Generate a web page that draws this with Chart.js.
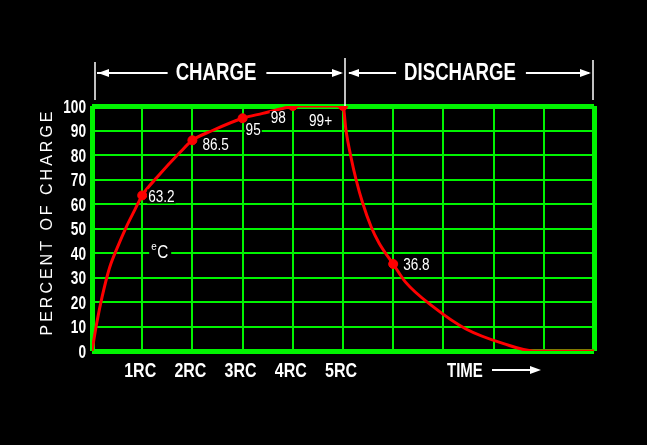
<!DOCTYPE html>
<html>
<head>
<meta charset="utf-8">
<script src="https://cdn.jsdelivr.net/npm/chart.js@4/dist/chart.umd.min.js"></script>
<style>
  html, body { margin: 0; padding: 0; background: #000; }
  #wrap { width: 647px; height: 445px; position: relative; }
</style>
</head>
<body>
<div id="wrap"><canvas id="rcChart"></canvas></div>
<script>
// Datos (tiempo en constantes RC, % de carga)
const chargeTime  = [0, 0.1, 0.2, 0.35, 0.5, 0.68, 0.85, 1, 1.3, 1.75, 2, 2.4, 3, 3.4, 3.8, 4.05, 5];
const chargeValue = [0, 12, 22, 34, 42, 50.5, 57.5, 63.5, 71, 81, 86, 90, 95, 97, 99, 100, 100];

const dischargeTime  = [5, 5.06, 5.16, 5.26, 5.39, 5.56, 5.72, 6, 6.25, 6.8, 7.45, 8.2, 8.8, 10];
const dischargeValue = [100, 90, 79, 70, 60.5, 50.7, 44, 35.5, 28, 18, 9, 3, 0, 0];

const markerTime   = [1, 2, 3, 4, 5, 6];
const markerValue  = [63.5, 86, 95, 100, 100, 35.5];
const markerLabels = ['63.2', '86.5', '95', '98', '99+', '36.8'];

const xTickLabels = ['', '1RC', '2RC', '3RC', '4RC', '5RC', '', '', '', '', ''];
const yTitle = 'PERCENT OF CHARGE';
const sectionLabels = ['CHARGE', 'DISCHARGE'];
const timeLabel = 'TIME';

const GREEN = '#00f400';
const RED = '#ff0000';
const WHITE = '#ffffff';
const SANS = '"Liberation Sans", Arial, sans-serif';

const curve = chargeTime.map((t, i) => ({ x: t, y: chargeValue[i] }))
  .concat(dischargeTime.slice(1).map((t, i) => ({ x: t, y: dischargeValue[i + 1] })));
const markers = markerTime.map((t, i) => ({ x: t, y: markerValue[i] }));

// desplazamientos (px) de cada etiqueta respecto a su punto
const labelOffsets = [[6, 1], [10, 4], [3, 11], [-22, 12], [-34, 15], [10, 1]];

// texto estrecho: escala horizontal (la fuente Narrow no esta instalada)
function narrowText(ctx, text, x, y, sx) {
  ctx.save();
  ctx.translate(x, y);
  ctx.scale(sx, 1);
  ctx.fillText(text, 0, 0);
  ctx.restore();
}

function narrowWidth(ctx, text, sx) {
  return ctx.measureText(text).width * sx;
}

function arrowHead(ctx, x, y, dir) {
  ctx.beginPath();
  ctx.moveTo(x, y);
  ctx.lineTo(x - dir * 11, y - 4);
  ctx.lineTo(x - dir * 11, y + 4);
  ctx.closePath();
  ctx.fill();
}

function hLine(ctx, x1, x2, y) {
  ctx.beginPath();
  ctx.moveTo(x1, y);
  ctx.lineTo(x2, y);
  ctx.stroke();
}

const overlay = {
  id: 'overlay',
  afterDraw(chart) {
    const ctx = chart.ctx;
    const xs = chart.scales.x, ys = chart.scales.y;
    ctx.save();
    ctx.fillStyle = WHITE;
    ctx.strokeStyle = WHITE;
    ctx.textBaseline = 'middle';

    // etiquetas de los ejes (posiciones de las escalas de Chart.js)
    ctx.font = 'bold 20px ' + SANS;
    ctx.textAlign = 'center';
    xs.ticks.forEach((t, i) => {
      const lab = xTickLabels[i];
      if (lab) narrowText(ctx, lab, xs.getPixelForTick(i) - 2, 371, 0.8);
    });
    ctx.font = 'bold 18px ' + SANS;
    ctx.textAlign = 'right';
    ys.ticks.forEach((t, i) => {
      narrowText(ctx, String(t.value), 86, ys.getPixelForTick(i) + 2, 0.76);
    });

    // cabecera CHARGE / DISCHARGE
    const xL = xs.getPixelForValue(0) + 3, xM = xs.getPixelForValue(5) + 2, xR = xs.getPixelForValue(10) - 1;
    const yTop = ys.getPixelForValue(100);
    const hy = 73;
    ctx.lineWidth = 1.5;
    ctx.beginPath();
    ctx.moveTo(xL, 62); ctx.lineTo(xL, yTop - 6);
    ctx.moveTo(xM, 58); ctx.lineTo(xM, yTop);
    ctx.moveTo(xR, 60); ctx.lineTo(xR, yTop - 6);
    ctx.stroke();

    ctx.font = 'bold 23px ' + SANS;
    ctx.textAlign = 'center';
    const c1 = 216, c2 = 460;
    narrowText(ctx, sectionLabels[0], c1, hy + 1, 0.81);
    narrowText(ctx, sectionLabels[1], c2, hy + 1, 0.81);
    const w1 = narrowWidth(ctx, sectionLabels[0], 0.81) / 2 + 8;
    const w2 = narrowWidth(ctx, sectionLabels[1], 0.81) / 2 + 8;
    ctx.lineWidth = 2;
    hLine(ctx, xL + 2, c1 - w1, hy);
    hLine(ctx, c1 + w1 + 2, xM - 4, hy);
    hLine(ctx, xM + 4, c2 - w2, hy);
    hLine(ctx, c2 + w2 + 2, xR - 4, hy);
    arrowHead(ctx, xL + 3, hy, -1);
    arrowHead(ctx, xM - 2, hy, 1);
    arrowHead(ctx, xM + 3, hy, -1);
    arrowHead(ctx, xR - 2, hy, 1);

    // titulo del eje Y
    ctx.save();
    ctx.translate(48, 222);
    ctx.rotate(-Math.PI / 2);
    ctx.font = '16px ' + SANS;
    ctx.letterSpacing = '3px';
    ctx.fillText(yTitle, 0, 0);
    ctx.restore();

    // TIME ---->
    ctx.font = 'bold 20px ' + SANS;
    ctx.textAlign = 'left';
    narrowText(ctx, timeLabel, 447, 371, 0.75);
    ctx.lineWidth = 2;
    hLine(ctx, 492, 532, 370);
    arrowHead(ctx, 541, 370, 1);

    // etiquetas de los puntos
    ctx.font = '16px ' + SANS;
    markers.forEach((p, i) => {
      const px = xs.getPixelForValue(p.x) + labelOffsets[i][0];
      const py = ys.getPixelForValue(p.y) + labelOffsets[i][1];
      const w = narrowWidth(ctx, markerLabels[i], 0.85);
      ctx.fillStyle = '#000';
      ctx.fillRect(px - 1, py - 7, w + 2, 14);
      ctx.fillStyle = WHITE;
      narrowText(ctx, markerLabels[i], px, py + 1, 0.85);
    });

    // e sub C
    const ex = xs.getPixelForValue(1) + 9, ey = ys.getPixelForValue(41);
    ctx.fillStyle = '#000';
    ctx.fillRect(ex - 2, ey - 9, 22, 18);
    ctx.fillStyle = WHITE;
    ctx.font = '11px ' + SANS;
    narrowText(ctx, 'e', ex, ey - 4, 0.9);
    ctx.font = '18px ' + SANS;
    narrowText(ctx, 'C', ex + 6, ey + 2, 0.85);
    ctx.restore();
  }
};

const ctxRC = document.getElementById('rcChart').getContext('2d');
const rcChart = new Chart(ctxRC, {
  type: 'line',
  data: {
    datasets: [{
      data: curve,
      borderColor: RED,
      borderWidth: 3,
      pointRadius: 0,
      cubicInterpolationMode: 'monotone',
      fill: false
    }, {
      data: markers,
      showLine: false,
      pointRadius: 4.5,
      pointBackgroundColor: RED,
      pointBorderColor: RED
    }]
  },
  options: {
    responsive: true,
    maintainAspectRatio: false,
    animation: false,
    events: [],
    layout: { padding: { top: 106, right: 53, left: 0, bottom: 0 } },
    plugins: {
      legend: { display: false },
      tooltip: { enabled: false }
    },
    scales: {
      x: {
        type: 'linear',
        min: 0,
        max: 10,
        afterFit(scale) { scale.height = 94; },
        border: { display: false },
        grid: {
          color: GREEN,
          lineWidth: c => (c.tick && (c.tick.value === 0 || c.tick.value === 10)) ? 5 : 2,
          drawTicks: false
        },
        ticks: {
          stepSize: 1,
          autoSkip: false,
          maxRotation: 0,
          padding: 9,
          color: 'rgba(0,0,0,0)',
          font: { size: 18, weight: 'bold' },
          callback: (v, i) => xTickLabels[i]
        }
      },
      y: {
        min: 0,
        max: 100,
        afterFit(scale) { scale.width = 92; },
        border: { display: false },
        grid: {
          color: GREEN,
          lineWidth: c => (c.tick && (c.tick.value === 0 || c.tick.value === 100)) ? 5 : 2,
          drawTicks: false
        },
        ticks: {
          stepSize: 10,
          padding: 7,
          color: 'rgba(0,0,0,0)',
          font: { size: 17, weight: 'bold' }
        }
      }
    }
  },
  plugins: [overlay]
});
</script>
</body>
</html>
